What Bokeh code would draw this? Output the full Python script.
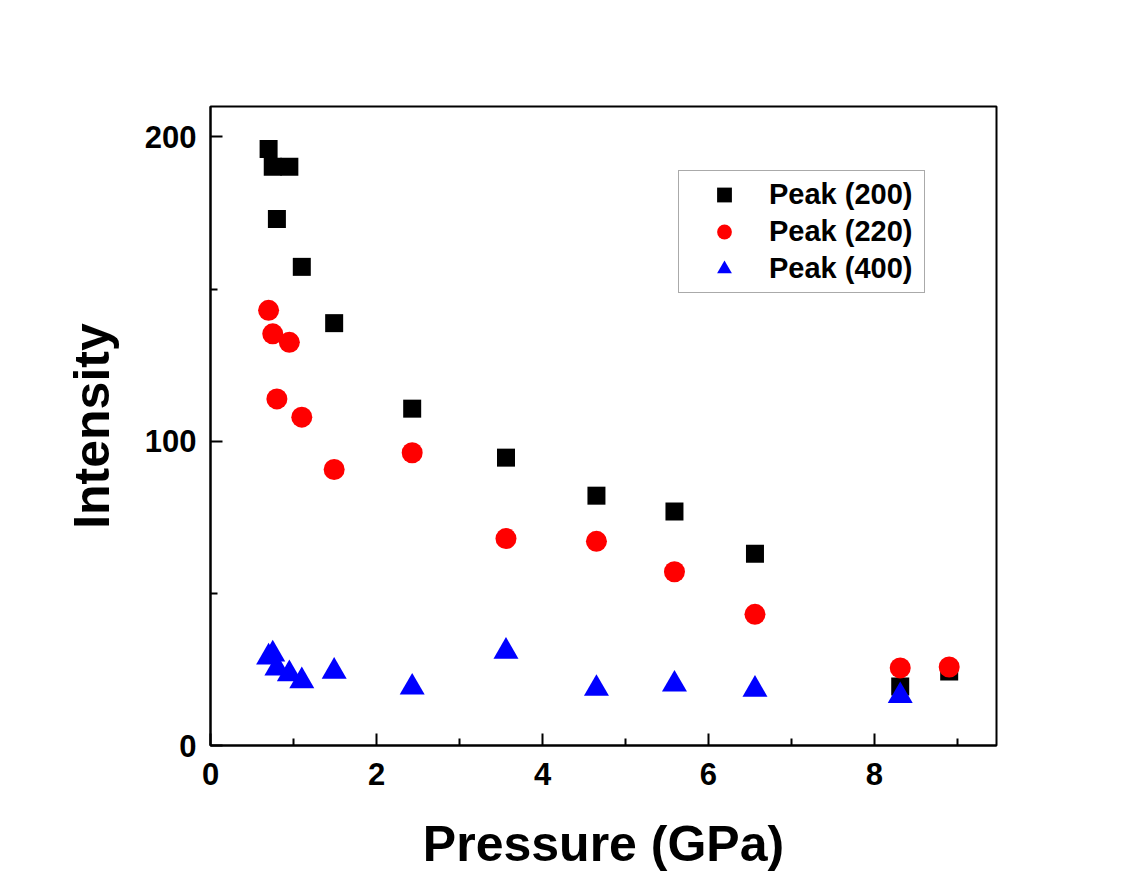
from bokeh.plotting import figure
from bokeh.models import FixedTicker, Range1d, Legend, LegendItem
from bokeh.embed import file_html
from bokeh.resources import INLINE

# Data
pressure = [0.70, 0.75, 0.80, 0.95, 1.10, 1.49, 2.43, 3.56, 4.65, 5.59, 6.56, 8.31, 8.90]
peak_200 = [196.0, 190.2, 173.0, 190.2, 157.3, 138.8, 110.7, 94.6, 82.1, 76.9, 63.0, 19.4, 24.3]
peak_220 = [143.0, 135.3, 113.9, 132.5, 107.9, 90.7, 96.2, 68.0, 67.1, 57.1, 43.1, 25.5, 25.8]
pressure_400 = [0.70, 0.75, 0.80, 0.95, 1.10, 1.49, 2.43, 3.56, 4.65, 5.59, 6.56, 8.31]
peak_400 = [29.0, 30.0, 25.4, 23.5, 21.2, 24.3, 19.1, 30.9, 18.7, 20.1, 18.4, 16.3]

x_major = [0, 2, 4, 6, 8]
x_minor = [1, 3, 5, 7, 9]
y_major = [0, 100, 200]
y_minor = [50, 150]

FONT = "Liberation Sans"

p = figure(width=1125, height=880, output_backend="svg", toolbar_location=None,
           x_range=Range1d(0, 9.47), y_range=Range1d(0, 210),
           min_border_left=210, min_border_right=129,
           min_border_top=106, min_border_bottom=135)
p.background_fill_color = "white"
p.border_fill_color = "white"
p.outline_line_color = "black"
p.outline_line_width = 2
p.grid.visible = False

r1 = p.scatter(pressure, peak_200, marker="square", size=18, fill_color="black", line_color=None)
r2 = p.scatter(pressure, peak_220, marker="circle", size=21, fill_color="#ff0000", line_color=None)
r3 = p.scatter(pressure_400, peak_400, marker="triangle", size=25, fill_color="#0000ff", line_color=None)

for ax, maj, mnr in ((p.xaxis[0], x_major, x_minor), (p.yaxis[0], y_major, y_minor)):
    ax.ticker = FixedTicker(ticks=maj, minor_ticks=mnr)
    ax.axis_line_width = 2
    ax.axis_line_color = "black"
    ax.major_tick_in = 12
    ax.major_tick_out = 0
    ax.minor_tick_in = 7
    ax.minor_tick_out = 0
    ax.major_tick_line_width = 2
    ax.minor_tick_line_width = 2
    ax.major_label_text_font = FONT
    ax.major_label_text_font_style = "bold"
    ax.major_label_text_font_size = "31px"
    ax.major_label_text_color = "black"
    ax.axis_label_text_font = FONT
    ax.axis_label_text_font_style = "bold"
    ax.axis_label_text_font_size = "50px"
    ax.axis_label_text_color = "black"

p.xaxis.axis_label = "Pressure (GPa)"
p.yaxis.axis_label = "Intensity"
p.xaxis.major_label_standoff = 17
p.yaxis.major_label_standoff = 14
p.xaxis.axis_label_standoff = 28
p.yaxis.axis_label_standoff = 22

legend = Legend(items=[LegendItem(label="Peak (200)", renderers=[r1]),
                       LegendItem(label="Peak (220)", renderers=[r2]),
                       LegendItem(label="Peak (400)", renderers=[r3])],
                location=(468, 452), margin=0, padding=5, spacing=0,
                glyph_width=80, glyph_height=37, label_height=37,
                label_width=150, label_standoff=5)
legend.label_text_font = FONT
legend.label_text_font_style = "bold"
legend.label_text_font_size = "29px"
legend.label_text_color = "black"
legend.border_line_color = "#555555"
legend.border_line_width = 1.5
legend.background_fill_color = "white"
p.add_layout(legend, "center")

open("out.html", "w").write(file_html(p, INLINE))
